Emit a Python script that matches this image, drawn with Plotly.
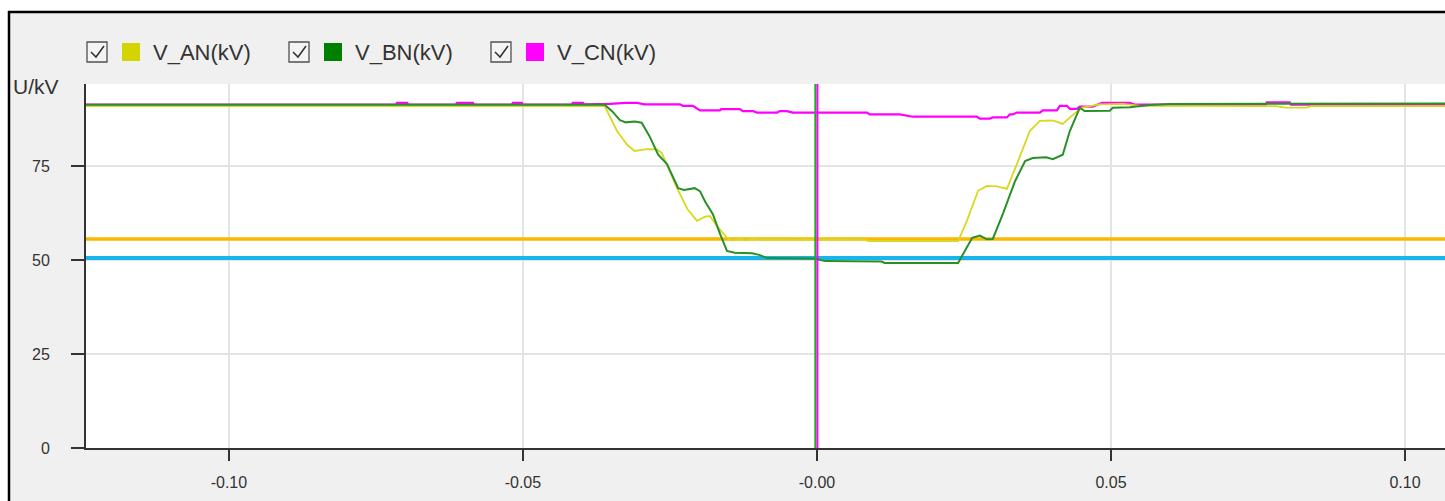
import plotly.graph_objects as go

# ---------------- data ----------------
series_names = ["V_AN(kV)", "V_BN(kV)", "V_CN(kV)"]
series_colors = ["#d4d400", "#008000", "#ff00ff"]

t_an = [-0.1243, -0.0361, -0.0340, -0.0322, -0.0310, -0.0289, -0.0272, -0.0264, -0.0250,
        -0.0238, -0.0220, -0.0204, -0.0190, -0.0182, -0.0170, -0.0153, -0.0145, -0.0130,
        -0.0120, -0.0110, -0.0097, -0.0080, -0.0040, 0.0000, 0.0080, 0.0088, 0.0240,
        0.0255, 0.0274, 0.0289, 0.0306, 0.0323, 0.0340, 0.0362, 0.0379, 0.0401, 0.0418,
        0.0435, 0.0451, 0.0469, 0.0480, 0.0520, 0.0550, 0.0780, 0.0796, 0.0833, 0.0840, 0.1068]
v_an = [90.9, 90.9, 84.3, 80.5, 79.0, 79.5, 79.4, 78.5, 73.5,
        69.1, 63.5, 60.4, 61.5, 61.7, 59.0, 55.9, 55.2, 55.6,
        55.2, 55.6, 55.4, 55.5, 55.4, 55.5, 55.4, 55.0, 55.0,
        60.4, 68.4, 69.7, 69.6, 68.9, 75.5, 84.3, 87.0, 87.1, 86.2,
        88.6, 90.5, 91.0, 91.4, 91.5, 91.0, 90.9, 90.5, 90.5, 90.9, 90.9]

t_bn = [-0.1243, -0.0361, -0.0348, -0.0335, -0.0325, -0.0310, -0.0298, -0.0285, -0.0270,
        -0.0255, -0.0236, -0.0226, -0.0208, -0.0199, -0.0190, -0.0177, -0.0165, -0.0153,
        -0.0140, -0.0110, -0.0097, -0.0085, -0.0005, 0.0014, 0.0110, 0.0115, 0.0240,
        0.0264, 0.0277, 0.0289, 0.0299, 0.0316, 0.0337, 0.0354, 0.0367, 0.0390, 0.0401,
        0.0418, 0.0430, 0.0447, 0.0455, 0.0498, 0.0503, 0.0532, 0.0566, 0.0600, 0.1068]
v_bn = [91.3, 91.3, 89.5, 87.2, 86.6, 86.8, 86.5, 83.0, 78.0,
        75.5, 69.1, 68.6, 69.1, 68.3, 65.5, 62.2, 57.0, 52.4,
        51.9, 51.8, 51.3, 50.5, 50.4, 49.7, 49.6, 49.2, 49.2,
        55.9, 56.5, 55.5, 55.6, 62.2, 71.0, 76.3, 77.1, 77.3, 76.8,
        78.0, 84.3, 90.5, 89.6, 89.7, 90.5, 90.6, 91.2, 91.5, 91.6]

t_cn = [-0.1243, -0.0716, -0.0714, -0.0697, -0.0695, -0.0614, -0.0612, -0.0585, -0.0583,
        -0.0519, -0.0517, -0.0502, -0.0500, -0.0417, -0.0415, -0.0398, -0.0396, -0.0369,
        -0.0352, -0.0325, -0.0306, -0.0293, -0.0233, -0.0228, -0.0211, -0.0199, -0.0165,
        -0.0163, -0.0131, -0.0126, -0.0109, -0.0102, -0.0068, -0.0063, -0.0051, -0.0041,
        0.0085, 0.0090, 0.0141, 0.0163, 0.0272, 0.0277, 0.0294, 0.0299, 0.0323, 0.0328,
        0.0333, 0.0340, 0.0379, 0.0384, 0.0408, 0.0413, 0.0425, 0.0430, 0.0442, 0.0447,
        0.0469, 0.0485, 0.0532, 0.0541, 0.0763, 0.0765, 0.0804, 0.0806, 0.1068]
v_cn = [91.3, 91.3, 91.8, 91.8, 91.3, 91.3, 91.8, 91.8, 91.3,
        91.3, 91.8, 91.8, 91.3, 91.3, 91.8, 91.8, 91.4, 91.4,
        91.5, 91.8, 91.8, 91.4, 91.4, 91.0, 91.0, 89.8, 89.8,
        90.1, 90.1, 89.6, 89.6, 89.2, 89.2, 89.6, 89.6, 89.2,
        89.2, 88.7, 88.7, 88.1, 88.1, 87.6, 87.6, 87.9, 87.9, 88.7,
        88.7, 89.2, 89.2, 89.8, 89.8, 91.0, 91.0, 90.2, 90.2, 90.8,
        90.8, 91.8, 91.8, 91.3, 91.3, 91.9, 91.9, 91.3, 91.3]

threshold_high = 55.6   # orange level
threshold_low = 50.5    # cyan level
cursor_t = 0.0

x_range = [-0.1243, 0.1068]
y_range = [0, 96.8]
x_tickvals = [-0.10, -0.05, 0.0, 0.05, 0.10]
x_ticktext = ["-0.10", "-0.05", "-0.00", "0.05", "0.10"]
y_tickvals = [0, 25, 50, 75]
y_ticktext = ["0", "25", "50", "75"]
y_title = "U/kV"

# ---------------- layout helpers (page pixel -> paper) ----------------
W, H = 1445, 501
L, R, T, B = 86, 1445, 84, 448   # plot area in page pixels


def px(x):
    return (x - L) / (R - L)


def py(y):
    return (B - y) / (B - T)


FONT = "Liberation Sans, Arial, sans-serif"
TXT = "#333333"

fig = go.Figure()

# threshold lines
fig.add_trace(go.Scatter(x=x_range, y=[threshold_high, threshold_high], mode="lines",
                         line=dict(color="#f8b800", width=3.5), hoverinfo="skip", showlegend=False))
fig.add_trace(go.Scatter(x=x_range, y=[threshold_low, threshold_low], mode="lines",
                         line=dict(color="#18b4ec", width=4), hoverinfo="skip", showlegend=False))

# phase traces (CN bottom, AN, BN top)
fig.add_trace(go.Scatter(x=t_cn, y=v_cn, mode="lines", name=series_names[2],
                         line=dict(color=series_colors[2], width=2.2), showlegend=False))
fig.add_trace(go.Scatter(x=t_an, y=v_an, mode="lines", name=series_names[0],
                         line=dict(color="#d8d820", width=1.8), showlegend=False))
fig.add_trace(go.Scatter(x=t_bn, y=v_bn, mode="lines", name=series_names[1],
                         line=dict(color="#279127", width=2.0), showlegend=False))

shapes = []
# white strips outside the frame + black border lines
shapes.append(dict(type="rect", xref="paper", yref="paper", x0=px(-5), x1=px(1500),
                   y0=py(11), y1=py(-5), fillcolor="white", line=dict(width=0), layer="below"))
shapes.append(dict(type="rect", xref="paper", yref="paper", x0=px(-5), x1=px(8),
                   y0=py(520), y1=py(-5), fillcolor="white", line=dict(width=0), layer="below"))
shapes.append(dict(type="line", xref="paper", yref="paper", x0=px(8), x1=px(1500),
                   y0=py(12), y1=py(12), line=dict(color="black", width=2.5)))
shapes.append(dict(type="line", xref="paper", yref="paper", x0=px(9), x1=px(9),
                   y0=py(11), y1=py(520), line=dict(color="black", width=2.5)))

# cursor lines at t = 0
shapes.append(dict(type="line", xref="x", yref="paper", x0=cursor_t - 0.00028, x1=cursor_t - 0.00028,
                   y0=0, y1=1, line=dict(color="#22aa22", width=2)))
shapes.append(dict(type="line", xref="x", yref="paper", x0=cursor_t + 0.00008, x1=cursor_t + 0.00008,
                   y0=0, y1=1, line=dict(color="#ff00ff", width=2)))

annotations = []
# custom legend
legend_x = [87, 289, 491]
for i, name in enumerate(series_names):
    bx = legend_x[i]
    shapes.append(dict(type="rect", xref="paper", yref="paper", x0=px(bx), x1=px(bx + 20),
                       y0=py(62), y1=py(42), fillcolor="#f4f4f4", line=dict(color="#505050", width=1.3)))
    shapes.append(dict(type="path", xref="paper", yref="paper",
                       path="M %f %f L %f %f L %f %f" % (px(bx + 4), py(52), px(bx + 9), py(57),
                                                         px(bx + 17), py(46)),
                       line=dict(color="#303030", width=1.5)))
    sx = bx + 35
    shapes.append(dict(type="rect", xref="paper", yref="paper", x0=px(sx), x1=px(sx + 18),
                       y0=py(61), y1=py(43), fillcolor=series_colors[i], line=dict(width=0)))
    annotations.append(dict(xref="paper", yref="paper", x=px(bx + 64), y=py(52), text=name,
                            showarrow=False, xanchor="left", yanchor="middle",
                            font=dict(family=FONT, size=22, color=TXT)))

annotations.append(dict(xref="paper", yref="paper", x=px(11), y=py(87), text=y_title,
                        showarrow=False, xanchor="left", yanchor="middle",
                        font=dict(family=FONT, size=21, color=TXT)))

fig.update_layout(
    width=W, height=H,
    margin=dict(l=L, r=W - R, t=T, b=H - B, pad=0),
    paper_bgcolor="#f0f0f0",
    plot_bgcolor="white",
    showlegend=False,
    shapes=shapes,
    annotations=annotations,
    font=dict(family=FONT, size=15, color=TXT),
    xaxis=dict(range=x_range, tickvals=x_tickvals, ticktext=x_ticktext,
               showgrid=True, gridcolor="#e4e4e4", gridwidth=1.5, zeroline=False,
               showline=True, linecolor="#333333", linewidth=2,
               ticks="outside", ticklen=11, tickwidth=2, tickcolor="#333333",
               ticklabelstandoff=8, tickfont=dict(family=FONT, size=16, color=TXT)),
    yaxis=dict(range=y_range, tickvals=y_tickvals, ticktext=y_ticktext,
               showgrid=True, gridcolor="#e4e4e4", gridwidth=1.5, zeroline=False,
               showline=True, linecolor="#333333", linewidth=2,
               ticks="outside", ticklen=13, tickwidth=2, tickcolor="#333333",
               ticklabelstandoff=18, tickfont=dict(family=FONT, size=16, color=TXT)),
)

fig.write_html("out.html", config={"displayModeBar": False, "staticPlot": True},
               post_script="document.body.style.margin='0';document.body.style.overflow='hidden';")
